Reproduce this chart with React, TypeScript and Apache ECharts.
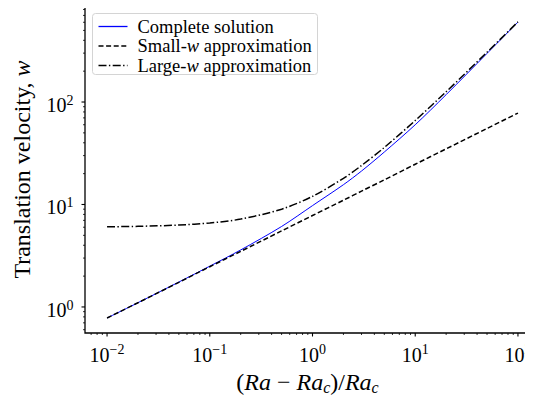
import React, { useEffect, useRef } from "react";
import * as echarts from "echarts";

// Normalised distance above onset, (Ra - Ra_c)/Ra_c
const epsilon = [0.01, 0.02, 0.05, 0.1, 0.2, 0.5, 1, 2, 3, 5, 10, 20, 50, 100];
// Translation velocity w for each model
const completeW = [0.78, 1.1, 1.75, 2.5, 3.6, 6.1, 9.75, 15.6, 21.2, 32.5, 60, 118, 298, 602];
const smallW = [0.78, 1.1, 1.74, 2.47, 3.49, 5.52, 7.8, 11.0, 13.5, 17.4, 24.7, 34.9, 55.2, 78];
const largeW = [6.06, 6.12, 6.3, 6.6, 7.2, 9.0, 12, 18, 24, 36, 66, 126, 306, 606];

// Axis ranges and tick positions
const X_MIN = 0.0061;
const X_MAX = 131;
const Y_MIN = 0.557;
const Y_MAX = 865;
const xMajorTicks = [0.01, 0.1, 1, 10, 100];
const xMinorTicks = [
  0.007, 0.008, 0.009,
  0.02, 0.03, 0.04, 0.05, 0.06, 0.07, 0.08, 0.09,
  0.2, 0.3, 0.4, 0.5, 0.6, 0.7, 0.8, 0.9,
  2, 3, 4, 5, 6, 7, 8, 9,
  20, 30, 40, 50, 60, 70, 80, 90,
];
const yMajorTicks = [1, 10, 100];
const yMinorTicks = [
  0.6, 0.7, 0.8, 0.9,
  2, 3, 4, 5, 6, 7, 8, 9,
  20, 30, 40, 50, 60, 70, 80, 90,
  200, 300, 400, 500, 600, 700, 800,
];

const legendLabels = [
  "Complete solution",
  "Small-{i|w} approximation",
  "Large-{i|w} approximation",
];

const FONT = "'Liberation Serif', 'Times New Roman', serif";
const BASE_SIZE = 20;
const EXP_SIZE = 14;

function exponentText(v: number): string {
  const r = Math.round(Math.log10(v));
  return r < 0 ? "\u2212" + Math.abs(r) : String(r);
}

// "10" with a raised exponent, laid out around a tick position
function powerLabel(v: number, px: number, py: number, onX: boolean): any[] {
  const exp = exponentText(v);
  const baseW = BASE_SIZE;
  const expW = Array.from(exp).reduce((w, ch) => w + (ch === "\u2212" ? 0.564 : 0.5) * EXP_SIZE, 0);
  const total = baseW + expW;
  const left = onX ? px - total / 2 : px - 11.5 - total;
  const baseY = onX ? py + 22 : py + 2.6;
  const expY = onX ? py + 16.5 : py - 1.5;
  return [
    {
      type: "text",
      x: left,
      y: baseY,
      style: { text: "10", fontSize: BASE_SIZE, fontFamily: FONT, fill: "#000", align: "left", verticalAlign: "middle" },
    },
    {
      type: "text",
      x: left + baseW,
      y: expY,
      style: { text: exp, fontSize: EXP_SIZE, fontFamily: FONT, fill: "#000", align: "left", verticalAlign: "middle" },
    },
  ];
}

export default function App() {
  const ref = useRef<HTMLDivElement>(null);

  useEffect(() => {
    if (!ref.current) return;
    const chart = echarts.init(ref.current, null, { renderer: "svg" });

    // [x, y, tick length, axis (0 = x, 1 = y)]
    const tickData: number[][] = [];
    xMajorTicks.forEach((v) => tickData.push([v, Y_MIN, 3.5, 0]));
    xMinorTicks.forEach((v) => tickData.push([v, Y_MIN, 2, 0]));
    yMajorTicks.forEach((v) => tickData.push([X_MIN, v, 3.5, 1]));
    yMinorTicks.forEach((v) => tickData.push([X_MIN, v, 2, 1]));

    const lineData = (ys: number[]) => epsilon.map((x, i) => [x, ys[i]]);

    const legendX = 92;
    const legendY = 13;
    const rowY = [26, 45.5, 65];
    const handleStyles = [
      { stroke: "#0000ff", lineWidth: 1.3 },
      { stroke: "#000", lineWidth: 1.5, lineDash: [5, 2.6] },
      { stroke: "#000", lineWidth: 1.5, lineDash: [8, 2.4, 1.4, 2.4] },
    ];

    chart.setOption({
      animation: false,
      backgroundColor: "#fff",
      grid: {
        left: 85,
        right: 3,
        top: 6,
        bottom: 70,
        containLabel: false,
        outerBoundsMode: "none",
        show: true,
        borderColor: "#000",
        borderWidth: 1.3,
        backgroundColor: "transparent",
      },
      xAxis: {
        type: "log",
        logBase: 10,
        min: X_MIN,
        max: X_MAX,
        axisLine: { show: false },
        axisTick: { show: false },
        axisLabel: { show: false },
        splitLine: { show: false },
        minorTick: { show: false },
        name: "{n|(}{i|Ra}{n| \u2212 }{i|Ra}{c|c}{n|)/}{i|Ra}{c|c}",
        nameLocation: "middle",
        nameGap: 36,
        nameTextStyle: {
          rich: {
            n: { fontSize: 24, fontFamily: FONT, color: "#000", lineHeight: 26 },
            i: { fontSize: 24, fontFamily: FONT, fontStyle: "italic", color: "#000", lineHeight: 26 },
            c: { fontSize: 16, fontFamily: FONT, fontStyle: "italic", color: "#000", lineHeight: 10, verticalAlign: "bottom" },
          },
        },
      },
      yAxis: {
        type: "log",
        logBase: 10,
        min: Y_MIN,
        max: Y_MAX,
        axisLine: { show: false },
        axisTick: { show: false },
        axisLabel: { show: false },
        splitLine: { show: false },
        name: "{n|Translation velocity, }{i|w}",
        nameLocation: "middle",
        nameRotate: 90,
        nameGap: 51,
        nameTextStyle: {
          rich: {
            n: { fontSize: 24, fontFamily: FONT, color: "#000" },
            i: { fontSize: 24, fontFamily: FONT, fontStyle: "italic", color: "#000" },
          },
        },
      },
      series: [
        {
          name: "Complete solution",
          type: "line",
          data: lineData(completeW),
          smooth: 0.3,
          showSymbol: false,
          lineStyle: { color: "#0000ff", width: 1 },
          z: 2,
        },
        {
          name: "Small-w approximation",
          type: "line",
          data: lineData(smallW),
          smooth: 0.3,
          showSymbol: false,
          lineStyle: { color: "#000", width: 1.5, type: [5, 2.6] },
          z: 3,
        },
        {
          name: "Large-w approximation",
          type: "line",
          data: lineData(largeW),
          smooth: 0.3,
          showSymbol: false,
          lineStyle: { color: "#000", width: 1.5, type: [8, 2.4, 1.4, 2.4] },
          z: 4,
        },
        {
          name: "ticks",
          type: "custom",
          coordinateSystem: "cartesian2d",
          clip: false,
          silent: true,
          data: tickData,
          renderItem: (_params: any, api: any) => {
            const p = api.coord([api.value(0), api.value(1)]);
            const len = api.value(2);
            const onX = api.value(3) === 0;
            const major = len > 3;
            const children: any[] = [
              {
                type: "line",
                shape: onX
                  ? { x1: p[0], y1: p[1], x2: p[0], y2: p[1] + len }
                  : { x1: p[0], y1: p[1], x2: p[0] - len, y2: p[1] },
                style: { stroke: "#000", lineWidth: major ? 1.1 : 0.8 },
              },
            ];
            if (major) {
              const v = onX ? api.value(0) : api.value(1);
              children.push(...powerLabel(v, p[0], p[1], onX));
            }
            return { type: "group", children };
          },
        },
      ],
      graphic: [
        {
          type: "group",
          left: legendX,
          top: legendY,
          children: [
            {
              type: "rect",
              shape: { x: 0, y: 0, width: 225, height: 61, r: 3 },
              style: { fill: "rgba(255,255,255,0.85)", stroke: "#d4d4d4", lineWidth: 1 },
            },
            ...legendLabels.flatMap((label, i) => [
              {
                type: "line",
                shape: { x1: 6, y1: rowY[i] - legendY, x2: 35, y2: rowY[i] - legendY },
                style: handleStyles[i],
              },
              {
                type: "text",
                x: 45,
                y: rowY[i] - legendY,
                style: {
                  text: label,
                  fontSize: 18.5,
                  fontFamily: FONT,
                  fill: "#000",
                  verticalAlign: "middle",
                  rich: {
                    i: { fontSize: 18.5, fontFamily: FONT, fontStyle: "italic", fill: "#000" },
                  },
                },
              },
            ]),
          ],
        },
      ],
    });

    return () => chart.dispose();
  }, []);

  return <div ref={ref} style={{ width: 533, height: 403, margin: -8 }} />;
}
